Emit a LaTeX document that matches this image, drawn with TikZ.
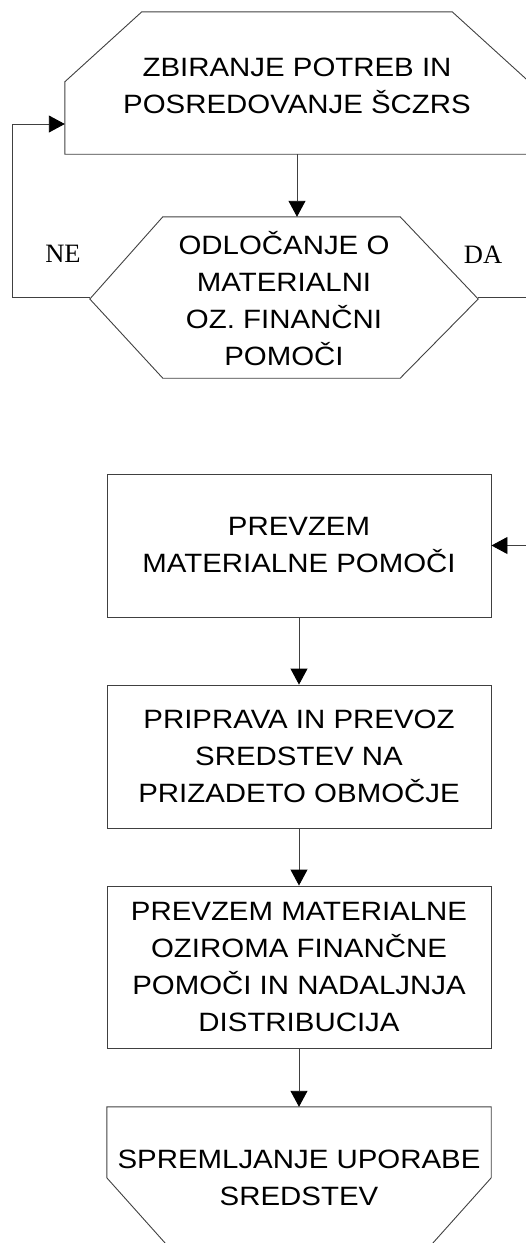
\documentclass[tikz,border=0pt]{standalone}
\usepackage{fontspec}
\setmainfont{Liberation Sans}[FakeStretch=1.11]
\newfontfamily\answerfont{Liberation Serif}
\usetikzlibrary{arrows.meta,calc}

\begin{document}
\begin{tikzpicture}[
        x=1pt, y=-1pt,
        every node/.style={inner sep=0pt, align=center, font=\fontsize{26.5}{37}\selectfont},
        outline/.style={draw=black!75, line width=0.9pt},
        stepbox/.style={outline, minimum width=384pt, minimum height=143pt},
        answer/.style={font=\answerfont\fontsize{26.5}{30}\selectfont},
        arr/.style={-{Triangle[length=16pt, width=17pt, color=black]}}
    ]
  \useasboundingbox (0,0) rectangle (526,1243);
  \clip (0,0) rectangle (526,1243);

  % Nodes
  \node[minimum width=464pt, minimum height=142pt] (collect) at (297,86) {ZBIRANJE POTREB IN\\POSREDOVANJE ŠCZRS};
  \node[minimum width=388pt, minimum height=161pt] (decide) at (284,299) {ODLOČANJE O\\MATERIALNI\\OZ. FINANČNI\\POMOČI};
  \node[stepbox] (pickup) at (299,545.5) {PREVZEM\\MATERIALNE POMOČI};
  \node[stepbox] (transport) at (299,756.5) {PRIPRAVA IN PREVOZ\\SREDSTEV NA\\PRIZADETO OBMOČJE};
  \node[stepbox, minimum height=162pt] (handover) at (299,967) {PREVZEM MATERIALNE\\OZIROMA FINANČNE\\POMOČI IN NADALJNJA\\DISTRIBUCIJA};
  \node[minimum width=384pt, minimum height=142pt] (monitor) at (299,1178) {SPREMLJANJE UPORABE\\SREDSTEV};
  \node[answer] (no) at (63,254) {NE};
  \node[answer] (yes) at (483,255) {DA};

  % Shapes
  \draw[outline] ($(collect.north west)+(77,-3)$) -- ($(collect.north east)+(-77,-3)$)
    -- ($(collect.north east)+(0,67)$) -- ($(collect.south east)+(0,-3)$)
    -- ($(collect.south west)+(0,-3)$) -- ($(collect.north west)+(0,67)$) -- cycle;
  \draw[outline] (decide.west) -- ($(decide.north west)+(73,-1.5)$) -- ($(decide.north east)+(-78,-1.5)$)
    -- (decide.east) -- ($(decide.south east)+(-78,-1.5)$) -- ($(decide.south west)+(73,-1.5)$) -- cycle;
  \draw[outline] ($(monitor.north west)+(0,71)$) -- (monitor.north west) -- (monitor.north east)
    -- ($(monitor.north east)+(0,71)$) -- ($(monitor.north)+(0,286)$) -- cycle;

  % Connectors
  \coordinate (neturn) at (12,124);
  \coordinate (daturn) at (545,297);
  \draw[outline,arr] ($(collect.south)+(0,-3)$) -- ($(collect.south |- decide.north)+(0,-1.5)$);
  \draw[outline,arr] (decide.west |- daturn) -| (neturn) -- (neturn -| collect.west);
  \draw[outline,arr] (decide.east |- daturn) -- (daturn) |- (pickup.east);
  \draw[outline,arr] (pickup) -- (transport);
  \draw[outline,arr] (transport) -- (handover);
  \draw[outline,arr] (handover) -- (monitor.north);
\end{tikzpicture}
\end{document}
